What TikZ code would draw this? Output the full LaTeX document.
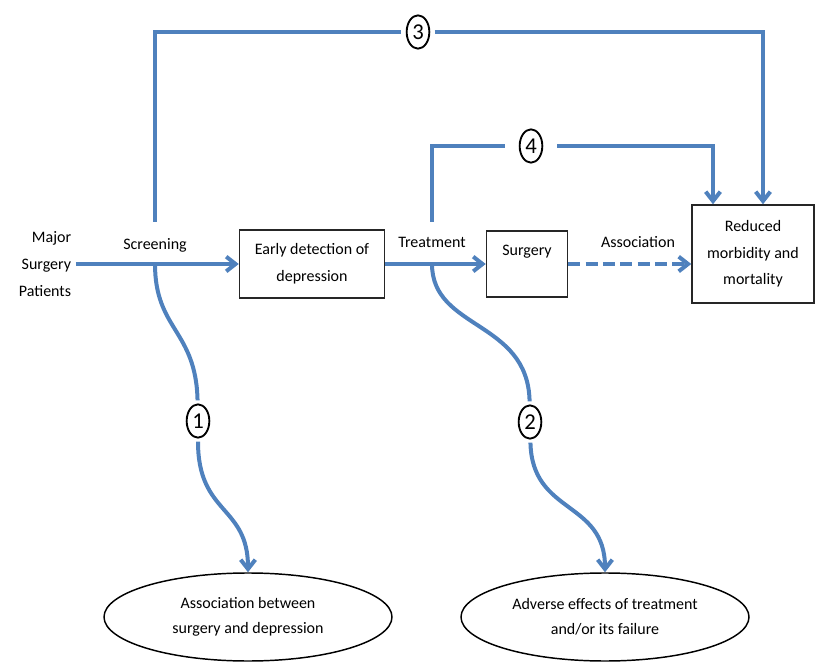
\documentclass[tikz,border=0pt]{standalone}
\usepackage{fontspec}
\setmainfont{Carlito}
\usetikzlibrary{positioning,arrows.meta,shapes.geometric}
\definecolor{flowblue}{RGB}{79,129,189}

\begin{document}
\begin{tikzpicture}[
    x=0.75pt, y=-0.75pt,
    font=\fontsize{12}{20}\selectfont,
    box/.style={draw=black!85, line width=1.1pt, align=center, inner sep=2pt},
    outcome/.style={draw, ellipse, line width=1.1pt, align=center, minimum width=216pt, minimum height=66pt, font=\fontsize{12}{18.5}\selectfont},
    num/.style={draw, ellipse, line width=1.4pt, inner sep=0pt, minimum width=17pt, minimum height=25pt, font=\fontsize{17}{17}\selectfont, outer sep=4pt},
    line/.style={flowblue, line width=3pt},
    arr/.style={line, -{Straight Barb[length=7pt,width=11pt]}}
]
\useasboundingbox (0,0) rectangle (818,663);

% main row
\node[align=right] (pat) at (45,264) {Major\\Surgery\\Patients};
\node[box, minimum width=108.75pt, minimum height=51pt] (early) at (312,264) {Early detection of\\depression};
\node[box, minimum width=60.75pt, minimum height=49.5pt] (surg) at (527,264) {Surgery\\\mbox{}};
\node[box, minimum width=91.5pt, minimum height=73.5pt] (red) at (753,254) {Reduced\\morbidity and\\mortality};

\node (scrl) at (155,245) {Screening};
\node (trtl) at (432,242) {Treatment};
\node (assl) at (638,242) {Association};

\coordinate (scr) at (155,264);
\coordinate (trt) at (432,264);
\coordinate (scrup) at (155,222);
\coordinate (trtup) at (432,222);

% numbered paths
\node[num] (n3) at (418,32) {3};
\node[num, outer sep=11pt] (n4) at (531,146) {4};
\node[num, outer sep=3pt] (n1) at (198,421) {1};
\node[num, outer sep=3pt] (n2) at (530,422) {2};

\node[outcome] (ell1) at (248,617) {Association between\\surgery and depression};
\node[outcome] (ell2) at (605,617) {Adverse effects of treatment\\and/or its failure};

\draw[arr] (pat.east) -- (early.west);
\draw[arr] (early) -- (surg);
\draw[arr, dash pattern=on 9pt off 4pt] (surg.east) -- (surg.east -| red.west);

\draw[line] (scrup) |- (n3);
\draw[arr] (n3) -| ([xshift=7.5pt]red.north);
\draw[line] (trtup) |- (n4);
\draw[arr] (n4) -| ([xshift=-30pt]red.north);

\draw[line] (scr) .. controls (155,330) and (196,330) .. (n1);
\draw[arr] (n1) .. controls (198,515) and (248,505) .. (ell1);
\draw[line] (trt) .. controls (432,330) and (528,320) .. (n2);
\draw[arr] (n2) .. controls (532,515) and (605,500) .. (ell2);
\end{tikzpicture}
\end{document}
